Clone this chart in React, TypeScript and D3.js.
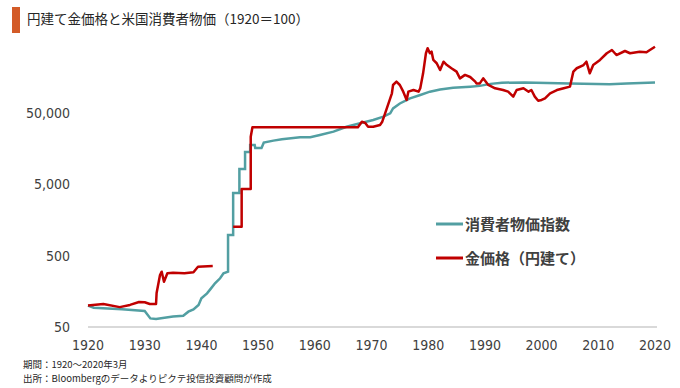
import React, { useRef, useEffect } from 'react';
import * as d3 from 'd3';

// [year, value], 1920 = 100
const cpiData: [number, number][] = [
    [1920, 100], [1921, 93], [1926, 89], [1930, 84], [1931, 66], [1932, 65], [1935, 70],
    [1936.8, 72], [1937.7, 82], [1938.6, 88], [1939.5, 102], [1940, 126], [1941, 148],
    [1941.7, 174], [1942.4, 205], [1943.3, 241], [1943.9, 283], [1944.7, 298], [1944.7, 975],
    [1945.6, 975], [1945.6, 3780], [1946.7, 3780], [1946.7, 8200], [1947.7, 8200],
    [1947.7, 14200], [1948.6, 14200], [1948.6, 17800], [1949.4, 17800], [1949.5, 16200],
    [1950.6, 16200], [1951, 19200], [1952.7, 20500], [1954.2, 21500], [1957.4, 22800],
    [1959.2, 22800], [1960.9, 24600], [1963.3, 27400], [1965.6, 32100], [1968, 35900],
    [1970.3, 39900], [1972.1, 44400], [1973.3, 49500], [1973.8, 58000], [1975, 68000],
    [1976.8, 80000], [1978.6, 89400], [1980.3, 99500], [1982.1, 107000], [1984.4, 113000],
    [1987.4, 117000], [1989.1, 120000], [1991, 128000], [1993, 133000], [1997, 134000],
    [2005, 130000], [2012, 126000], [2015, 130000], [2020, 134000],
];

// null = no data (war years)
const goldData: [number, number | null][] = [
    [1920, 100], [1922.7, 105], [1925.6, 95], [1927.4, 102], [1929, 112], [1930, 111],
    [1930.9, 105], [1932, 105], [1932.1, 150], [1932.7, 268], [1933, 298], [1933.4, 216],
    [1934, 283], [1935, 288], [1937, 283], [1938.6, 292], [1939.4, 350], [1942, 358],
    [1944, null],
    [1945.6, 1274], [1947.1, 1274], [1947.1, 4300], [1948.7, 4300], [1948.7, 23300],
    [1949, 31500], [1967.6, 31500], [1968.3, 37800], [1968.9, 36200], [1969.4, 32100],
    [1970.3, 32100], [1971.5, 34000], [1971.9, 37800], [1972.4, 49500], [1972.7, 58200],
    [1973.3, 80300], [1973.6, 94500], [1973.8, 123500], [1974.4, 137400], [1975, 123500],
    [1975.6, 99500], [1976.2, 76100], [1976.5, 99500], [1977.4, 105000], [1978.3, 99500],
    [1978.6, 111000], [1979.1, 180000], [1979.6, 344000], [1979.9, 404000], [1980.3, 344000],
    [1980.6, 362000], [1980.9, 277000], [1981.5, 249000], [1982.1, 200000], [1982.7, 262000],
    [1983.3, 235000], [1984.1, 212000], [1985, 190000], [1985.6, 153000], [1986.5, 171000],
    [1987.4, 160000], [1988.3, 137400], [1988.5, 130000], [1989.1, 130000], [1989.7, 153000],
    [1990.6, 123500], [1991.8, 111000], [1993.2, 105000], [1994.1, 99500], [1995, 84700],
    [1995.6, 105000], [1996.8, 111000], [1997.7, 99500], [1998.2, 105000], [1998.8, 84700],
    [1999.4, 74400], [2000, 76100], [2000.6, 80300], [2001.5, 94500], [2002.7, 105000],
    [2003.9, 111000], [2005, 117000], [2005.6, 190000], [2006.2, 212000], [2007.4, 235000],
    [2007.9, 262000], [2008.5, 180000], [2009.1, 235000], [2010.3, 277000], [2011.5, 344000],
    [2012.4, 382000], [2013.2, 325000], [2014.7, 370000], [2015.6, 344000], [2017.3, 362000],
    [2018.5, 355000], [2019.1, 382000], [2020, 425000],
];

const xTicks = [1920, 1930, 1940, 1950, 1960, 1970, 1980, 1990, 2000, 2010, 2020];
const yTicks = [50, 500, 5000, 50000];

const series = [
    { label: '消費者物価指数', color: '#529fa2' },
    { label: '金価格（円建て）', color: '#c00000' },
];

const title = '円建て金価格と米国消費者物価（1920＝100）';
const notes = ['期間：1920～2020年3月', '出所：Bloombergのデータよりピクテ投信投資顧問が作成'];

const App = () => {
    const svgRef = useRef<SVGSVGElement>(null);

    const width = 680;
    const height = 388;
    const tickFont = '"Liberation Sans Narrow", "DejaVu Sans Condensed", Arial, sans-serif';
    const jpFont = '"Noto Sans CJK JP", sans-serif';

    useEffect(() => {
        const svg = d3.select(svgRef.current);

        const x = d3.scaleLinear().domain([1920, 2020]).range([88, 655]);
        const y = d3.scaleLog().domain([50, 50000]).range([327, 113]);

        // title
        svg.append('rect')
            .attr('x', 12).attr('y', 7).attr('width', 8).attr('height', 26)
            .attr('fill', '#d35b28');
        svg.append('text')
            .attr('x', 27).attr('y', 24)
            .attr('font-family', jpFont)
            .attr('font-size', 13.5)
            .attr('fill', '#262626')
            .text(title);

        // baseline
        svg.append('line')
            .attr('x1', 88).attr('x2', 657)
            .attr('y1', y(50)).attr('y2', y(50))
            .attr('stroke', '#d9d9d9')
            .attr('stroke-width', 2);

        svg.selectAll('.xlab').data(xTicks).enter().append('text')
            .attr('class', 'xlab')
            .attr('x', d => x(d))
            .attr('y', 350)
            .attr('text-anchor', 'middle')
            .attr('font-family', tickFont)
            .attr('font-size', 14)
            .attr('fill', '#404040')
            .text(d => d);

        svg.selectAll('.ylab').data(yTicks).enter().append('text')
            .attr('class', 'ylab')
            .attr('x', 70)
            .attr('y', d => y(d) + 5)
            .attr('text-anchor', 'end')
            .attr('font-family', tickFont)
            .attr('font-size', 14)
            .attr('fill', '#404040')
            .text(d => d3.format(',')(d));

        const cpiLine = d3.line<[number, number]>()
            .x(d => x(d[0]))
            .y(d => y(d[1]));

        const goldLine = d3.line<[number, number | null]>()
            .defined(d => d[1] !== null)
            .x(d => x(d[0]))
            .y(d => y(d[1] as number));

        svg.append('path')
            .attr('d', cpiLine(cpiData))
            .attr('fill', 'none')
            .attr('stroke', series[0].color)
            .attr('stroke-width', 2.5);

        svg.append('path')
            .attr('d', goldLine(goldData))
            .attr('fill', 'none')
            .attr('stroke', series[1].color)
            .attr('stroke-width', 2.5)
            .attr('stroke-linejoin', 'round');

        // legend
        const legend = svg.selectAll('.legend').data(series).enter().append('g')
            .attr('class', 'legend')
            .attr('transform', (d, i) => `translate(436,${224 + i * 34})`);
        legend.append('line')
            .attr('x1', 0).attr('x2', 27)
            .attr('stroke', d => d.color)
            .attr('stroke-width', 3);
        legend.append('text')
            .attr('x', 29).attr('y', 5.5)
            .attr('font-family', jpFont)
            .attr('font-size', 15)
            .attr('font-weight', 'bold')
            .attr('fill', '#404040')
            .text(d => d.label);

        // source notes
        svg.selectAll('.note').data(notes).enter().append('text')
            .attr('class', 'note')
            .attr('x', 23)
            .attr('y', (d, i) => 368 + i * 14)
            .attr('font-family', jpFont)
            .attr('font-size', 9.5)
            .attr('fill', '#262626')
            .text(d => d);

        return () => {
            d3.select(svgRef.current).selectAll('*').remove();
        };
    }, []);

    return (
        <svg
            ref={svgRef}
            width={width}
            height={height}
            style={{ position: 'absolute', left: 0, top: 0, background: '#fff' }}
        ></svg>
    );
};

export default App;
